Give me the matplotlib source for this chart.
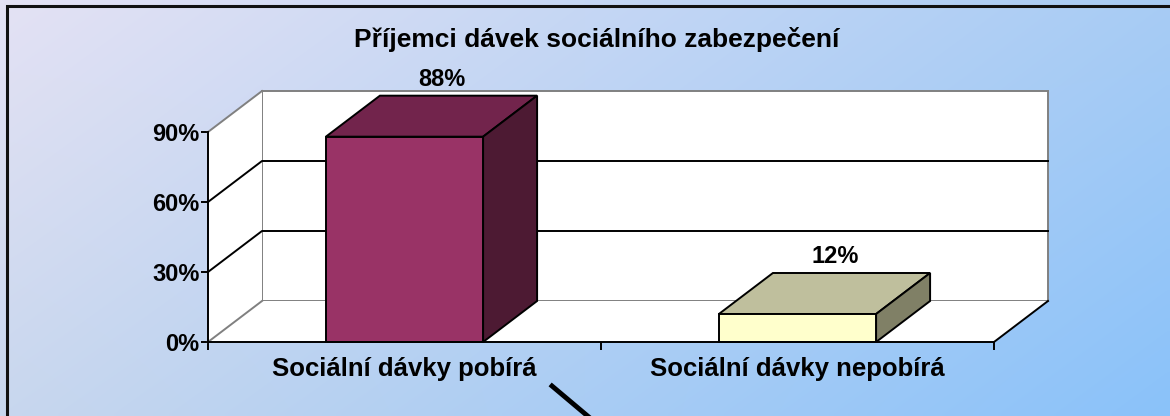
import numpy as np
import matplotlib
matplotlib.use("Agg")
import matplotlib.pyplot as plt
from matplotlib.patches import Polygon
from matplotlib.ticker import FixedLocator

plt.rcParams['font.family'] = ['Liberation Sans', 'DejaVu Sans']

title = "Příjemci dávek sociálního zabezpečení"
categories = ["Sociální dávky pobírá", "Sociální dávky nepobírá"]
values = [88, 12]
value_labels = ["88%", "12%"]
yticks = [0, 30, 60, 90]

front_colors = ["#993366", "#FFFFCC"]
top_colors = ["#72244C", "#BFBF9D"]
side_colors = ["#4D1A33", "#808066"]

W, H = 1170, 416
fig = plt.figure(figsize=(W / 100, H / 100), dpi=100)

# gradient background (bilinear between corner colours)
bg = fig.add_axes([0, 0, 1, 1], zorder=0)
tl = np.array([228, 226, 244]) / 255
tr = np.array([168, 204, 244]) / 255
bl = np.array([200, 215, 238]) / 255
br = np.array([138, 194, 250]) / 255
u = np.linspace(0, 1, 200)[None, :, None]
v = np.linspace(0, 1, 80)[:, None, None]
img = (1 - v) * ((1 - u) * tl + u * tr) + v * ((1 - u) * bl + u * br)
bg.imshow(img, aspect="auto", extent=[0, W, H, 0], interpolation="bilinear")
bg.set_xlim(0, W)
bg.set_ylim(H, 0)
bg.axis("off")
# chart frame (left and top edges visible) and stray connector line
bg.plot([7, 7, W + 5], [H + 5, 6, 6], color="#111111", lw=2.2, solid_joinstyle="miter")
bg.plot([552, 590], [386, 418], color="black", lw=3.5)

# main axes: front plane of the 3-D chart
x0px, x1px, y0px, y1px = 208, 994, 342, 132
ax = fig.add_axes([x0px / W, 1 - y0px / H, (x1px - x0px) / W, (y0px - y1px) / H], zorder=1)
ax.patch.set_visible(False)
ncat = len(categories)
ymax = yticks[-1]
ax.set_xlim(0, ncat)
ax.set_ylim(0, ymax)

# depth offset in data units
dx = 54 / ((x1px - x0px) / ncat)
dy = 41 / ((y0px - y1px) / ymax)

grey = "#808080"
# walls and floor
ax.add_patch(Polygon([(dx, dy), (ncat + dx, dy), (ncat + dx, ymax + dy), (dx, ymax + dy)],
                     closed=True, fc="white", ec=grey, lw=1.4, clip_on=False, zorder=1))
ax.add_patch(Polygon([(0, 0), (dx, dy), (dx, ymax + dy), (0, ymax)],
                     closed=True, fc="white", ec="none", clip_on=False, zorder=1))
ax.add_patch(Polygon([(0, 0), (ncat, 0), (ncat + dx, dy), (dx, dy)],
                     closed=True, fc="white", ec="none", clip_on=False, zorder=1))
ax.plot([0, dx], [ymax, ymax + dy], color=grey, lw=1.4, clip_on=False, zorder=2)
ax.plot([0, dx], [0, dy], color=grey, lw=1.4, clip_on=False, zorder=2)
ax.plot([ncat, ncat + dx], [0, dy], color="black", lw=1.4, clip_on=False, zorder=2)
for t in yticks[1:-1]:
    ax.plot([0, dx, ncat + dx], [t, t + dy, t + dy], color="black", lw=1.4,
            clip_on=False, zorder=2)

# 3-D bars
bw = 0.4
for i, val in enumerate(values):
    xl = i + 0.5 - bw / 2
    xr = xl + bw
    ax.add_patch(Polygon([(xl, 0), (xr, 0), (xr, val), (xl, val)], closed=True,
                         fc=front_colors[i], ec="black", lw=1.4, clip_on=False, zorder=4))
    ax.add_patch(Polygon([(xl, val), (xr, val), (xr + dx, val + dy), (xl + dx, val + dy)],
                         closed=True, fc=top_colors[i], ec="black", lw=1.4,
                         clip_on=False, zorder=3))
    ax.add_patch(Polygon([(xr, 0), (xr + dx, dy), (xr + dx, val + dy), (xr, val)],
                         closed=True, fc=side_colors[i], ec="black", lw=1.4,
                         clip_on=False, zorder=3))
    ax.text(i + 0.5 + 0.7 * dx, val + dy + 2, value_labels[i], ha="center", va="bottom",
            fontsize=17, fontweight="bold", clip_on=False, zorder=5)

# axes, ticks, labels
for s in ["top", "right"]:
    ax.spines[s].set_visible(False)
for s in ["left", "bottom"]:
    ax.spines[s].set_color("black")
    ax.spines[s].set_linewidth(1.4)
    ax.spines[s].set_zorder(5)
ax.set_yticks(yticks)
ax.set_yticklabels([f"{t}%" for t in yticks], fontsize=17, fontweight="bold")
ax.tick_params(axis="y", direction="out", length=5, width=1.4, pad=1)
ax.xaxis.set_major_locator(FixedLocator(list(range(ncat + 1))))
ax.set_xticklabels([])
ax.set_xticks([i + 0.5 for i in range(ncat)], minor=True)
ax.set_xticklabels(categories, minor=True, fontsize=18.5, fontweight="bold")
ax.tick_params(axis="x", which="major", direction="out", length=6, width=1.4)
ax.tick_params(axis="x", which="minor", length=0, pad=11)

fig.text(597 / W, 1 - 39 / H, title, ha="center", va="center", fontsize=19, fontweight="bold")

fig.savefig("out.png", dpi=100)
